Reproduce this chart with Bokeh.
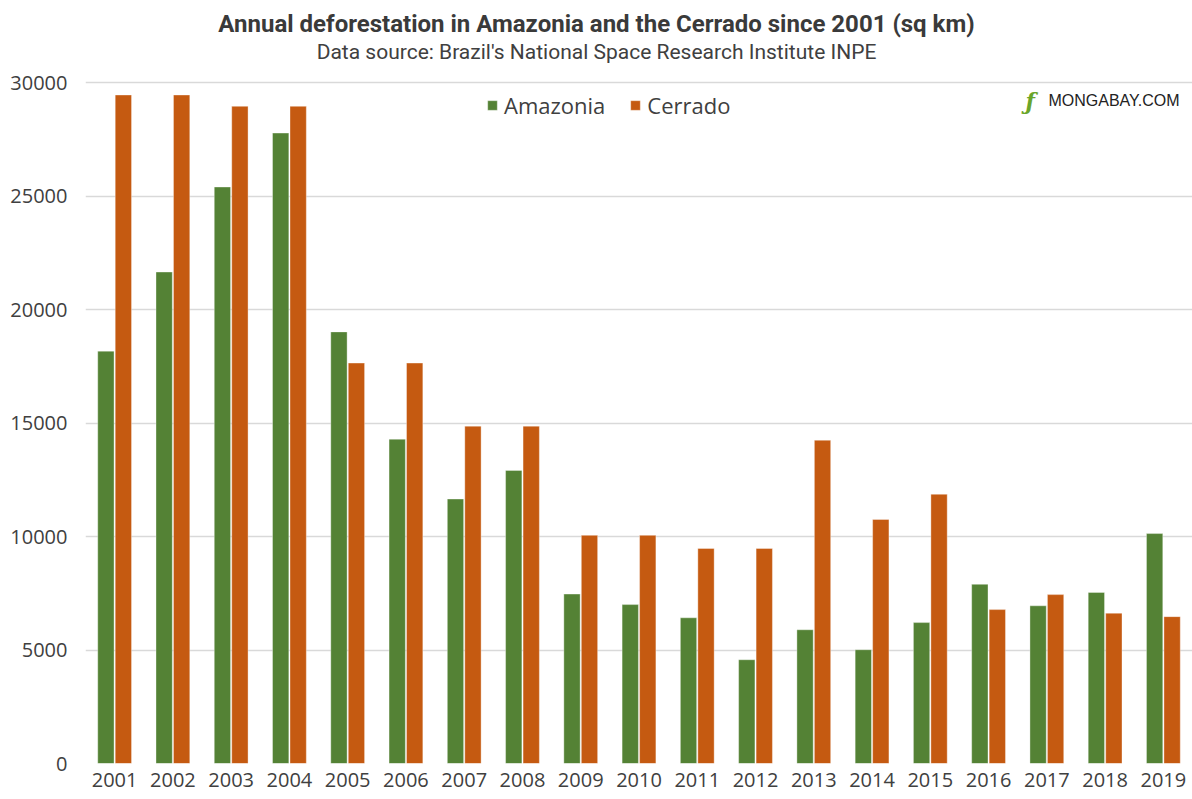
from bokeh.plotting import figure
from bokeh.models import Range1d, FactorRange, Label, Legend, LegendItem, ColumnDataSource, NumeralTickFormatter
from bokeh.transform import dodge
from bokeh.embed import file_html
from bokeh.resources import INLINE

years = [str(y) for y in range(2001, 2020)]
amazonia = [18165, 21651, 25396, 27772, 19014, 14286, 11651, 12911, 7464, 7000,
            6418, 4571, 5891, 5012, 6207, 7893, 6947, 7536, 10129]
cerrado = [29450, 29450, 28950, 28950, 17640, 17640, 14860, 14860, 10050, 10050,
           9470, 9470, 14240, 10750, 11860, 6780, 7440, 6620, 6470]
y_ticks = [0, 5000, 10000, 15000, 20000, 25000, 30000]

GREEN = "#548235"
ORANGE = "#C55A11"
TXT = "#404040"

W, H = 1192, 799
LEFT, BOTTOM = 85, 36
FRAME_H = H - BOTTOM            # frame spans full height above the x labels
TOP_PX = 82                     # pixel row of the 30000 gridline
y_end = 30000 * FRAME_H / (FRAME_H - TOP_PX)   # leaves headroom for the titles

src = ColumnDataSource(dict(year=years, amazonia=amazonia, cerrado=cerrado))

p = figure(x_range=FactorRange(*years), y_range=Range1d(0, y_end),
           width=W, height=H, output_backend="svg", toolbar_location=None,
           title=None, min_border_left=LEFT, min_border_right=0,
           min_border_top=0, min_border_bottom=BOTTOM)
p.background_fill_color = "white"
p.border_fill_color = "white"
p.outline_line_color = None

r1 = p.vbar(x=dodge("year", -0.15, range=p.x_range), top="amazonia", width=0.28,
            source=src, fill_color=GREEN, line_color="white", line_width=0.6, line_alpha=0.6)
r2 = p.vbar(x=dodge("year", 0.15, range=p.x_range), top="cerrado", width=0.28,
            source=src, fill_color=ORANGE, line_color="white", line_width=0.6, line_alpha=0.6)

# axes
p.yaxis.ticker = y_ticks
p.yaxis.formatter = NumeralTickFormatter(format="0")
p.yaxis.axis_line_color = None
p.yaxis.major_tick_line_color = None
p.yaxis.minor_tick_line_color = None
p.yaxis.major_label_standoff = 12
p.yaxis.major_label_text_font = "Open Sans"
p.yaxis.major_label_text_font_size = "20px"
p.yaxis.major_label_text_color = TXT

p.xaxis.axis_line_color = None
p.xaxis.major_tick_line_color = None
p.xaxis.minor_tick_line_color = None
p.xaxis.major_label_standoff = 3
p.xaxis.major_label_text_font = "Open Sans"
p.xaxis.major_label_text_font_size = "20px"
p.xaxis.major_label_text_color = TXT

p.xgrid.grid_line_color = None
p.ygrid.grid_line_color = "#d9d9d9"
p.ygrid.grid_line_width = 1.5

# titles (screen units are measured from the frame's bottom-left corner)
CX = W / 2 - LEFT
p.add_layout(Label(x=CX, y=FRAME_H - 23, x_units="screen", y_units="screen",
                   text="Annual deforestation in Amazonia and the Cerrado since 2001 (sq km)",
                   text_align="center", text_baseline="middle",
                   text_font="Roboto", text_font_size="24px", text_font_style="bold",
                   text_color="#3a3a3a"))
p.add_layout(Label(x=CX, y=FRAME_H - 51, x_units="screen", y_units="screen",
                   text="Data source: Brazil's National Space Research Institute INPE",
                   text_align="center", text_baseline="middle",
                   text_font="Roboto", text_font_size="21px", text_color=TXT))

# legend
legend = Legend(items=[LegendItem(label="Amazonia", renderers=[r1]),
                       LegendItem(label="Cerrado", renderers=[r2])],
                orientation="horizontal", location=(401, FRAME_H - 120),
                label_text_font="Open Sans", label_text_font_size="22px",
                label_text_color=TXT, glyph_width=12, glyph_height=12,
                label_standoff=6, spacing=24, padding=0, margin=0,
                border_line_color=None, background_fill_alpha=0)
p.add_layout(legend, "center")

# logo
p.add_layout(Label(x=940, y=FRAME_H - 100, x_units="screen", y_units="screen", text="\u0192",
                   text_font="DejaVu Serif", text_font_size="22px", text_font_style="bold italic",
                   text_color="#6aa52a", text_baseline="middle"))
p.add_layout(Label(x=963, y=FRAME_H - 100, x_units="screen", y_units="screen", text="MONGABAY.COM",
                   text_font="Liberation Sans", text_font_size="16px",
                   text_color="#222222", text_baseline="middle"))

open("out.html", "w").write(file_html(p, INLINE))
